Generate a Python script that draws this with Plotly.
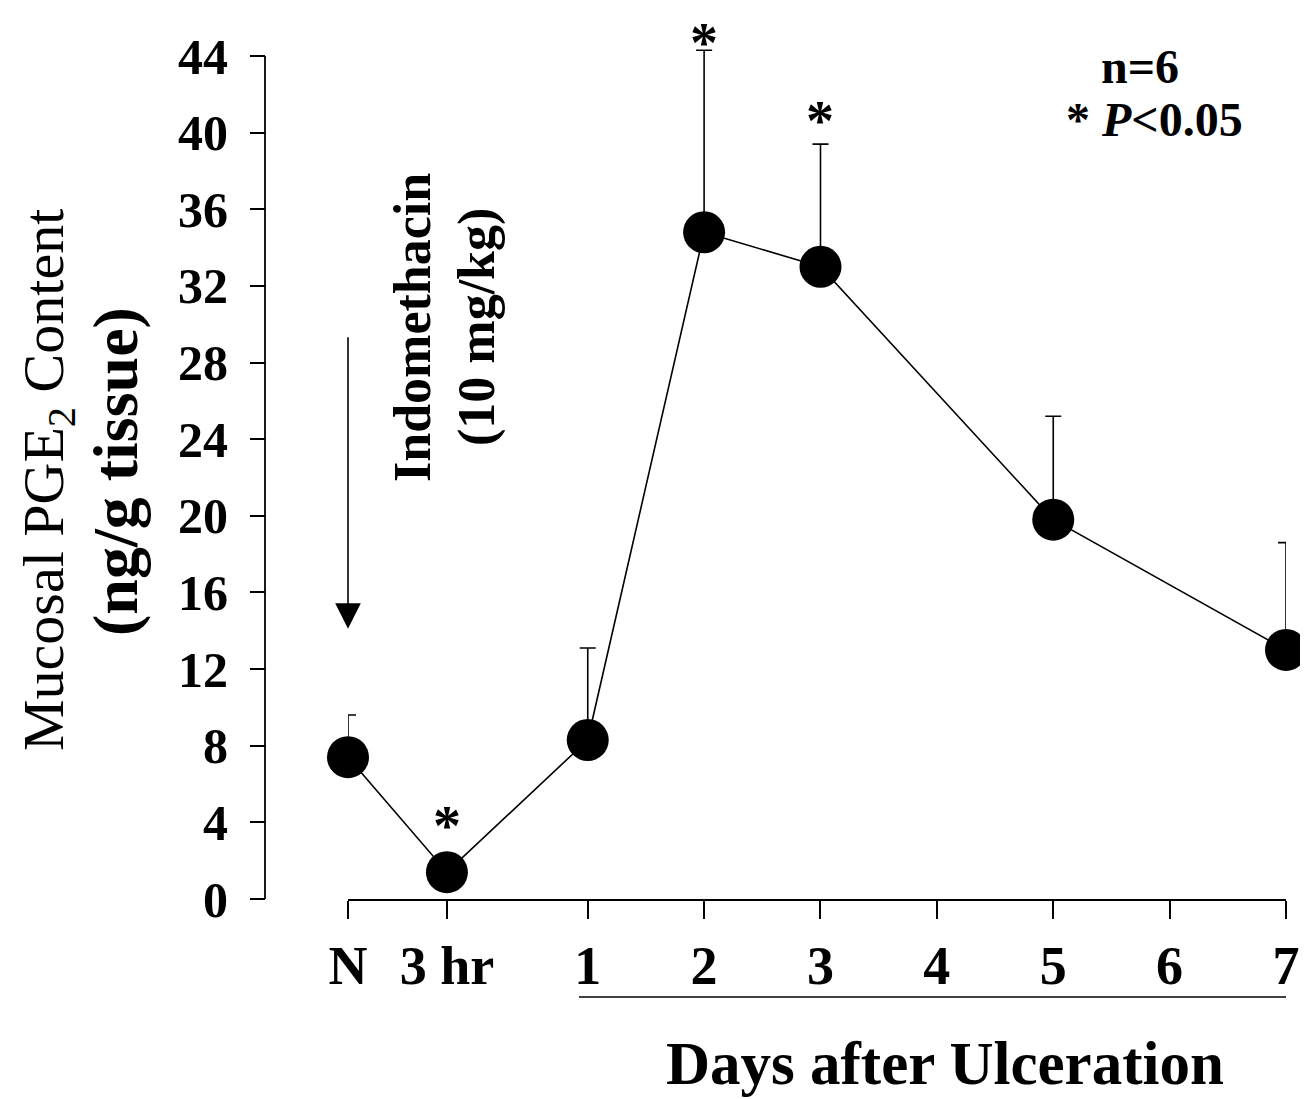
import plotly.graph_objects as go

# ---- data ----
time_labels = ["N", "3 hr", "1", "2", "3", "5", "7"]
time_pos = [-1.06, -0.21, 1, 2, 3, 5, 7]          # position on the time axis (days)
pge2_mean = [7.4, 1.4, 8.3, 34.8, 33.0, 19.8, 13.0]
pge2_sem = [2.2, 0.5, 4.8, 9.5, 6.4, 5.4, 5.6]
significant = [False, True, False, True, True, False, False]

tick_vals = [-1.06, -0.21, 1, 2, 3, 4, 5, 6, 7]
tick_text = ["N", "3 hr", "1", "2", "3", "4", "5", "6", "7"]
y_ticks = list(range(0, 45, 4))

W, H = 1308, 1099
OFF = 8                      # page body margin
FONT = "Liberation Serif"


def px(x):
    return (x - OFF) / W


def py(y):
    return 1 - (y - OFF) / H


Y_TOP = 46.0                       # axis range top (axis line drawn only to 44)
PX_PER_UNIT = (899 - 56) / 44.0
y_dom_top = py(899 - Y_TOP * PX_PER_UNIT)

fig = go.Figure()
fig.add_trace(go.Scatter(
    x=time_pos, y=pge2_mean,
    mode="lines+markers",
    line=dict(color="black", width=1.6),
    marker=dict(color="black", size=42),
    error_y=dict(type="data", symmetric=False, array=pge2_sem,
                 arrayminus=[0] * len(pge2_sem),
                 color="black", thickness=1.6, width=8),
    cliponaxis=False,
    showlegend=False,
))

ast_shift = [0, 37, 0, 7, 23, 0, 0]
annotations = []
for xp, m, e, s, sh in zip(time_pos, pge2_mean, pge2_sem, significant, ast_shift):
    if s:
        annotations.append(dict(
            x=xp, y=m + e, xref="x", yref="y", text="<b>*</b>", showarrow=False,
            xanchor="center", yanchor="middle", yshift=sh,
            font=dict(family=FONT, size=56, color="black")))


def label(x, y, text, size, angle=0):
    return dict(x=px(x), y=py(y), xref="paper", yref="paper", text=text,
                textangle=angle, showarrow=False, xanchor="center",
                yanchor="middle", font=dict(family=FONT, size=size, color="black"))


# Indomethacin arrow
annotations.append(dict(
    x=time_pos[0], y=14.1, xref="x", yref="y",
    ax=time_pos[0], ay=29.4, axref="x", ayref="y",
    showarrow=True, arrowhead=2, arrowsize=3.2, arrowwidth=1.6,
    arrowcolor="black", text=""))
annotations.append(label(412, 328, "<b>Indomethacin</b>", 52, -90))
annotations.append(label(477, 327, "<b>(10 mg/kg)</b>", 52, -90))

# legend text
annotations.append(label(1140, 66, "<b>n=6</b>", 48))
annotations.append(label(1154, 120, "<b>* <i>P</i><0.05</b>", 48))

# y title (two lines)
annotations.append(label(47, 480, "Mucosal PGE<sub>2</sub> Content", 58, -90))
annotations.append(label(115, 472, "<b>(ng/g tissue)</b>", 64, -90))

# x title
annotations.append(label(945, 1063, "<b>Days after Ulceration</b>", 61))

shapes = [
    # underline below the day labels
    dict(type="line", xref="x", yref="paper",
         x0=0.925, x1=7, y0=py(997), y1=py(997),
         line=dict(color="black", width=1.6)),
    # y axis line (0 to 44)
    dict(type="line", xref="paper", yref="y",
         x0=px(265), x1=px(265), y0=0, y1=44,
         line=dict(color="black", width=1.8)),
]

fig.update_layout(
    width=W, height=H,
    margin=dict(l=0, r=0, t=0, b=0, autoexpand=False),
    paper_bgcolor="white", plot_bgcolor="white",
    annotations=annotations, shapes=shapes,
    xaxis=dict(
        domain=[px(348), px(1286)], range=[time_pos[0], 7],
        tickmode="array", tickvals=tick_vals, ticktext=tick_text,
        showline=True, linecolor="black", linewidth=1.8,
        ticks="outside", ticklen=18, tickwidth=1.8, tickcolor="black",
        showgrid=False, zeroline=False, automargin=False,
        tickfont=dict(family=FONT, size=54, color="black", weight="bold"),
    ),
    yaxis=dict(
        domain=[py(899), y_dom_top], range=[0, Y_TOP],
        anchor="free", position=px(265),
        tickmode="array", tickvals=y_ticks,
        showline=False,
        ticks="outside", ticklen=15, tickwidth=1.8, tickcolor="black",
        ticklabelstandoff=12,
        showgrid=False, zeroline=False, automargin=False,
        tickfont=dict(family=FONT, size=50, color="black", weight="bold"),
    ),
)

fig.write_html("out.html")
